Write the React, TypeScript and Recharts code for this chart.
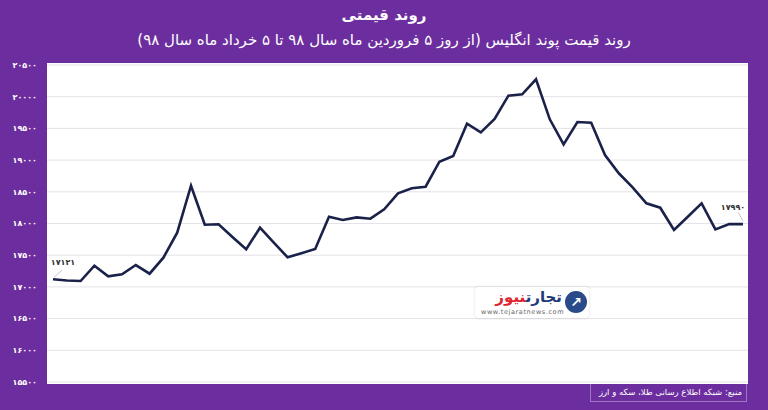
import { LineChart, Line, XAxis, YAxis, CartesianGrid, LabelList } from "recharts";

// قیمت پوند انگلیس، از ۵ فروردین تا ۵ خرداد ۹۸ (تومان)
const PRICES = [
  17121, 17100, 17093, 17335, 17167, 17199, 17345, 17208, 17461, 17855,
  18596, 17981, 17987, 17786, 17593, 17934, 17697, 17467, 17530, 17597,
  18107, 18055, 18097, 18076, 18224, 18476, 18555, 18580, 18975, 19065,
  19574, 19438, 19648, 20016, 20037, 20274, 19643, 19249, 19601, 19590,
  19080, 18792, 18571, 18319, 18249, 17897, 18107, 18319, 17907, 17992,
  17990,
];
const Y_TICKS = [15500, 16000, 16500, 17000, 17500, 18000, 18500, 19000, 19500, 20000, 20500];

const TITLE = "روند قیمتی";
const SUBTITLE = "روند قیمت پوند انگلیس (از روز ۵ فروردین ماه سال ۹۸ تا ۵ خرداد ماه سال ۹۸)";
const SOURCE = "منبع: شبکه اطلاع رسانی طلا، سکه و ارز";

const PURPLE = "#6c2e9e";
const NAVY = "#1b2249";
const FONT = "'DejaVu Sans', sans-serif";

const fa = (n: number | string) => String(n).replace(/\d/g, (d) => "۰۱۲۳۴۵۶۷۸۹"[+d]);

const data = PRICES.map((price, i) => ({ day: i, price }));
const last = data.length - 1;

function EndLabel(props: any) {
  const { x, y, value, index } = props;
  if (index !== 0 && index !== last) return null;
  const first = index === 0;
  const tx = first ? x + 10 : x - 10;
  return (
    <g>
      <line
        x1={first ? x + 1 : x - 5}
        y1={first ? y - 2 : y - 12}
        x2={first ? x + 9 : x}
        y2={first ? y - 9 : y - 3}
        stroke="#c8c8d0"
        strokeWidth={1}
      />
      <text x={tx} y={y - 14} textAnchor="middle" fontSize={8} fontWeight="bold" fill="#333" fontFamily={FONT}>
        {fa(value)}
      </text>
    </g>
  );
}

export default function App() {
  return (
    <div
      style={{
        position: "absolute",
        left: 0,
        top: 0,
        width: 768,
        height: 410,
        background: PURPLE,
        fontFamily: FONT,
        overflow: "hidden",
      }}
    >
      <div style={{ position: "absolute", top: 6, width: 768, textAlign: "center", color: "#fff", fontSize: 15, fontWeight: "bold", direction: "rtl" }}>
        {TITLE}
      </div>
      <div style={{ position: "absolute", top: 31, width: 768, textAlign: "center", color: "#fff", fontSize: 15, direction: "rtl" }}>
        {SUBTITLE}
      </div>
      <div style={{ position: "absolute", left: 47, top: 63, width: 701, height: 321, background: "#fff" }} />
      <div style={{ position: "absolute", left: 0, top: 0 }}>
        <LineChart width={768} height={410} data={data} margin={{ top: 65, right: 20, bottom: 28, left: 12 }}>
          <CartesianGrid vertical={false} stroke="#e3e3e8" strokeWidth={1} />
          <XAxis dataKey="day" type="number" domain={[0, last]} hide padding={{ left: 6, right: 5 }} />
          <YAxis
            type="number"
            domain={[15500, 20500]}
            ticks={Y_TICKS}
            width={35}
            axisLine={false}
            tickLine={false}
            tickSize={0}
            tickMargin={10}
            tickFormatter={(v) => fa(v)}
            tick={{ fill: "#fff", fontSize: 8, fontWeight: "bold", fontFamily: FONT }}
          />
          <Line
            type="linear"
            dataKey="price"
            stroke={NAVY}
            strokeWidth={2.6}
            strokeLinejoin="miter"
            dot={false}
            isAnimationActive={false}
          >
            <LabelList dataKey="price" content={EndLabel} />
          </Line>
        </LineChart>
      </div>
      {/* لوگو */}
      <div
        style={{
          position: "absolute",
          left: 475,
          top: 287,
          width: 114,
          height: 31,
          background: "#fff",
          borderRadius: 4,
          boxShadow: "0 0 3px rgba(0,0,0,0.15)",
        }}
      >
        <div
          style={{
            position: "absolute",
            right: 2,
            top: 4,
            width: 22,
            height: 22,
            borderRadius: 11,
            background: "#2a4a8a",
            color: "#fff",
            fontSize: 14,
            lineHeight: "22px",
            textAlign: "center",
            fontWeight: "bold",
          }}
        >
          ↗
        </div>
        <div style={{ position: "absolute", right: 27, top: 1, fontSize: 15, fontWeight: "bold", direction: "rtl", whiteSpace: "nowrap" }}>
          <span style={{ color: "#1f3a78" }}>تجارت</span>
          <span style={{ color: "#e0232d" }}>نیوز</span>
        </div>
        <div style={{ position: "absolute", left: 6, top: 21, fontSize: 6.5, color: "#666", letterSpacing: 0.6 }}>
          www.tejaratnews.com
        </div>
      </div>
      <div
        style={{
          position: "absolute",
          left: 590,
          top: 383,
          width: 157,
          height: 19,
          border: "1px solid rgba(255,255,255,0.35)",
          borderTop: "none",
          color: "#fff",
          fontSize: 8.5,
          direction: "rtl",
          textAlign: "right",
          lineHeight: "19px",
          paddingRight: 4,
          boxSizing: "border-box",
          whiteSpace: "nowrap",
        }}
      >
        {SOURCE}
      </div>
    </div>
  );
}
